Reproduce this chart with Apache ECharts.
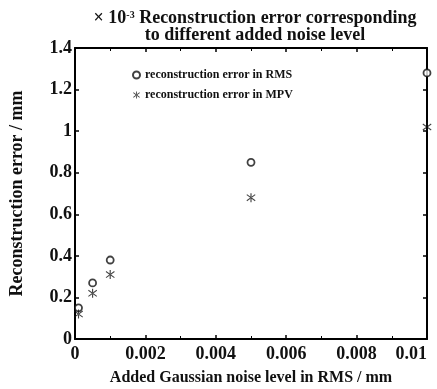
<!DOCTYPE html>
<html>
<head>
<meta charset="utf-8">
<script src="https://cdn.jsdelivr.net/npm/echarts@6/dist/echarts.min.js"></script>
<style>
html,body{margin:0;padding:0;background:#fff;}
#container1{width:437px;height:389px;}
</style>
</head>
<body>
<div id="container1"></div>
<script>
// noise levels (mm) and reconstruction errors (x1e-3 mm)
var noiseLevel = [0.0001, 0.0005, 0.001, 0.005, 0.01];
var errRMS = [0.15, 0.27, 0.38, 0.85, 1.28];
var errMPV = [0.12, 0.22, 0.31, 0.68, 1.02];

var myChart = echarts.init(document.getElementById('container1'));
initChart();

function initChart(){
var font = 'Liberation Serif';
var star = 'path://M4.4,0L5.6,0L5.6,10L4.4,10Z M0.2,2.1L0.8,1.1L9.8,7.9L9.2,8.9Z M9.8,2.1L9.2,1.1L0.2,7.9L0.8,8.9Z';
var axisCommon = {
    axisLine: {show: true, onZero: false, lineStyle: {color: '#000', width: 2}},
    axisTick: {inside: true, length: 4, lineStyle: {color: '#000', width: 1.5}},
    splitLine: {show: false}
};
function pts(ys){
    var r = [];
    for (var i = 0; i < noiseLevel.length; i++) r.push([noiseLevel[i], ys[i]]);
    return r;
}
var option = {
    animation: false,
    backgroundColor: '#fff',
    title: {
        text: '× 10{sup|-3} Reconstruction error corresponding\nto different added noise level',
        left: 250,
        textAlign: 'center',
        top: 5,
        textStyle: {
            fontFamily: font, fontWeight: 'bold', fontSize: 18, color: '#111', lineHeight: 17,
            rich: {sup: {fontFamily: font, fontWeight: 'bold', fontSize: 10, verticalAlign: 'top', padding: [0,0,8,0]}}
        }
    },
    legend: {
        orient: 'vertical',
        left: 127,
        top: 64,
        itemWidth: 7,
        itemHeight: 7,
        itemGap: 8,
        textStyle: {fontFamily: font, fontWeight: 'bold', fontSize: 12, color: '#111'},
        data: ['reconstruction error in RMS', 'reconstruction error in MPV']
    },
    grid: {left: 75, right: 10, top: 48, bottom: 50, containLabel: false, outerBoundsMode: 'none'},
    xAxis: [
        Object.assign({
            type: 'value', min: 0, max: 0.01, interval: 0.002,
            minorTick: {show: true, splitNumber: 2, length: 3, lineStyle: {color: '#000'}},
            axisLabel: {fontFamily: font, fontWeight: 'bold', fontSize: 18, color: '#111', margin: 6,
                alignMaxLabel: 'right',
                formatter: function(v){ return String(+v.toFixed(3)); }},
            name: 'Added Gaussian noise level in RMS / mm',
            nameLocation: 'middle', nameGap: 31,
            nameTextStyle: {fontFamily: font, fontWeight: 'bold', fontSize: 16, color: '#111'}
        }, axisCommon),
        Object.assign({
            type: 'value', position: 'top', min: 0, max: 0.01, interval: 0.002,
            minorTick: {show: true, splitNumber: 2, length: 3, lineStyle: {color: '#000'}},
            axisLabel: {show: false}
        }, axisCommon)
    ],
    yAxis: [
        Object.assign({
            type: 'value', min: 0, max: 1.4, interval: 0.2,
            axisLabel: {fontFamily: font, fontWeight: 'bold', fontSize: 18, color: '#111', margin: 3,
                formatter: function(v){ return String(+v.toFixed(1)); }},
            name: 'Reconstruction error / mm',
            nameLocation: 'middle', nameGap: 49,
            nameTextStyle: {fontFamily: font, fontWeight: 'bold', fontSize: 18, color: '#111'}
        }, axisCommon),
        Object.assign({
            type: 'value', position: 'right', min: 0, max: 1.4, interval: 0.2,
            axisLabel: {show: false}
        }, axisCommon)
    ],
    series: [{
        name: 'reconstruction error in RMS',
        type: 'scatter',
        data: pts(errRMS),
        symbol: 'circle',
        symbolSize: 7,
        itemStyle: {color: '#fff', borderColor: '#111', borderWidth: 1.8}
    }, {
        name: 'reconstruction error in MPV',
        type: 'scatter',
        data: pts(errMPV),
        symbol: star,
        symbolSize: 9,
        itemStyle: {color: '#111'}
    }]
};
myChart.setOption(option);
}
</script>
</body>
</html>
